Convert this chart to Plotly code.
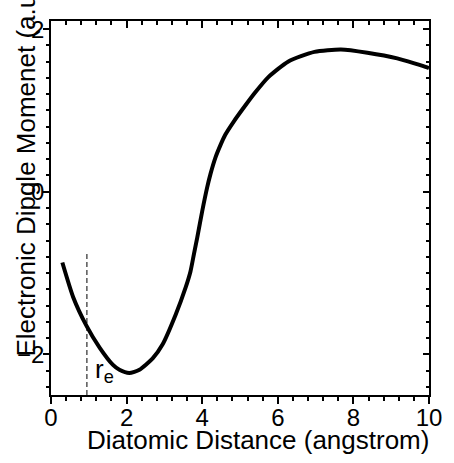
import plotly.graph_objects as go

# Curve data
dist = [0.30, 0.59, 0.94, 1.29, 1.64, 1.81, 2.07, 2.34, 2.69, 2.95, 3.30, 3.56, 3.69, 3.78,
        3.87, 4.00, 4.13, 4.22, 4.35, 4.48, 4.61, 4.83, 5.14, 5.40, 5.75, 6.27, 6.97, 7.67,
        8.37, 9.16, 9.95, 10.0]
dipole = [-0.87, -1.30, -1.65, -1.92, -2.13, -2.19, -2.23, -2.19, -2.05, -1.88, -1.51, -1.18, -0.98, -0.77,
          -0.56, -0.24, 0.05, 0.22, 0.42, 0.57, 0.70, 0.86, 1.06, 1.22, 1.41, 1.60, 1.72, 1.75,
          1.71, 1.64, 1.53, 1.52]

re_x = 0.95
re_top = -0.73
x_range = [0, 10]
y_range = [-2.5, 2.1]
x_ticks = [0, 2, 4, 6, 8, 10]
y_ticks = [-2, 0, 2]

FONT = "Liberation Sans, Arial, sans-serif"

fig = go.Figure()
fig.add_trace(go.Scatter(x=dist, y=dipole, mode="lines",
                         line=dict(color="black", width=4, shape="spline", smoothing=0.6),
                         showlegend=False, hoverinfo="skip"))
# invisible traces to activate secondary axes
fig.add_trace(go.Scatter(x=[None], y=[None], xaxis="x2", yaxis="y2", showlegend=False))
fig.add_trace(go.Scatter(x=[None], y=[None], xaxis="x3", yaxis="y3", showlegend=False))

common = dict(showgrid=False, zeroline=False, showline=True, linecolor="black", linewidth=1.5,
              tickcolor="black", tickwidth=1.5)
tf = dict(size=24, family=FONT, color="black")

fig.update_layout(
    width=454, height=463,
    margin=dict(l=51, r=22, t=21, b=68),
    paper_bgcolor="white", plot_bgcolor="white",
    font=dict(family=FONT, color="black"),
    # label-only primary axes
    xaxis=dict(range=x_range, tickvals=x_ticks, ticks="", tickfont=tf, **common),
    yaxis=dict(range=y_range, tickvals=y_ticks, ticks="", tickfont=tf, **common),
    # outside ticks (bottom / left)
    xaxis3=dict(range=x_range, overlaying="x", side="bottom", tickvals=x_ticks, ticks="outside", ticklen=7,
                showticklabels=False,
                minor=dict(ticks="outside", ticklen=4, dtick=0.4, tick0=0, tickcolor="black", tickwidth=1.5),
                **common),
    yaxis3=dict(range=y_range, overlaying="y", side="left", tickvals=y_ticks, ticks="outside", ticklen=6,
                showticklabels=False,
                minor=dict(ticks="outside", ticklen=3, dtick=0.2, tick0=0, tickcolor="black", tickwidth=1.5),
                **common),
    # mirrored inside ticks (top / right)
    xaxis2=dict(range=x_range, overlaying="x", side="top", tickvals=x_ticks, ticks="inside", ticklen=7,
                showticklabels=False,
                minor=dict(ticks="inside", ticklen=4, dtick=0.4, tick0=0, tickcolor="black", tickwidth=1.5),
                **common),
    yaxis2=dict(range=y_range, overlaying="y", side="right", tickvals=y_ticks, ticks="inside", ticklen=6,
                showticklabels=False,
                minor=dict(ticks="inside", ticklen=3, dtick=0.2, tick0=0, tickcolor="black", tickwidth=1.5),
                **common),
)

fig.add_shape(type="line", xref="x", yref="y", x0=re_x, x1=re_x, y0=y_range[0], y1=re_top,
              line=dict(color="black", width=1, dash="5px,3px"))

fig.add_annotation(x=1.1, y=-2.2, xref="x", yref="y", text="r<sub>e</sub>", showarrow=False,
                   xanchor="left", yanchor="middle", font=dict(size=26, family=FONT, color="black"))

fig.add_annotation(x=0, y=0, xref="paper", yref="paper", text="Diatomic Distance (angstrom)",
                   showarrow=False, xanchor="left", yanchor="middle", xshift=34, yshift=-45,
                   font=dict(size=26, family=FONT, color="black"))

fig.add_annotation(x=0, y=0, xref="paper", yref="paper", text="Electronic Dipgle Momenet (a.u.)",
                   showarrow=False, textangle=-90, xanchor="center", yanchor="bottom",
                   xshift=-26, yshift=36,
                   font=dict(size=26, family=FONT, color="black"))

fig.write_html("out.html")
